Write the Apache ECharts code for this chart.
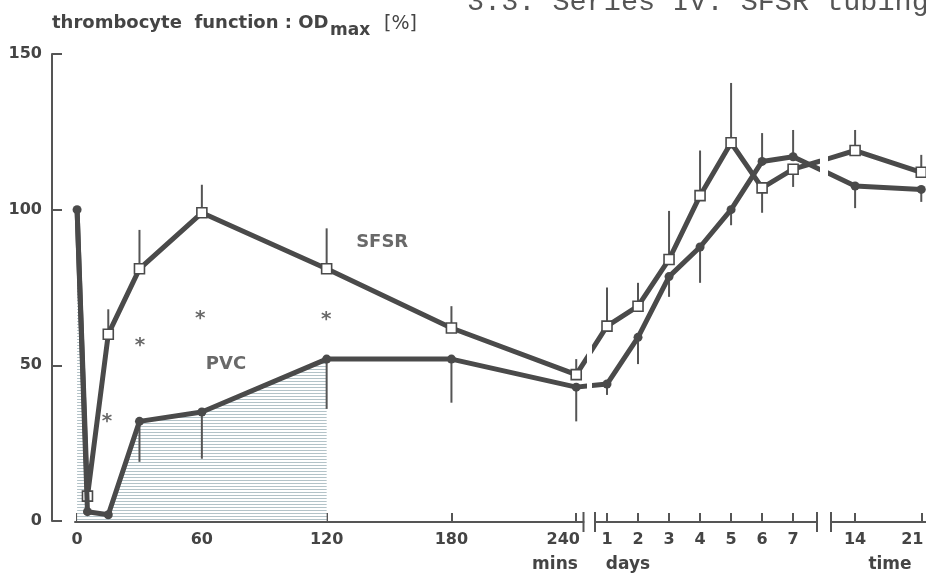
<!DOCTYPE html>
<html><head><meta charset="utf-8">
<script src="https://cdn.jsdelivr.net/npm/echarts@6/dist/echarts.min.js"></script>
<style>html,body{margin:0;padding:0;background:#fff}#c{width:926px;height:574px}</style>
</head><body><div id="c"></div>
<script>
// ---- data ----
const minsTimes = [0, 5, 15, 30, 60, 120, 180, 240];
const sfsrMins = [100, 8, 60, 81, 99, 81, 62, 47];
const pvcMins = [100, 3, 2, 32, 35, 52, 52, 43];
const sfsrMinsBar = [null, null, 68, 93.5, 108, 94, 69, 52];
const pvcMinsBar = [null, null, null, 19, 20, 36, 38, 32];

const dayTimes = [1, 2, 3, 4, 5, 6, 7];
const sfsrDays = [62.6, 69, 84, 104.5, 121.5, 107, 113];
const pvcDays = [44, 59, 78.5, 88, 100, 115.5, 117];
const sfsrDaysBar = [75, 76.5, 99.6, 119, 140.7, 99, 107.3];
const pvcDaysBar = [40.5, 50.4, 72, 76.5, 95, 124.6, 125.6];

const weekTimes = [14, 21];
const sfsrWeeks = [119, 112];
const pvcWeeks = [107.6, 106.5];
const sfsrWeeksBar = [125.6, 117.6];
const pvcWeeksBar = [100.5, 102.5];

const minsTicks = [0, 5, 15, 30, 60, 120, 180, 240];
const minsTickLabels = [0, 60, 120, 180, 240];
const dayTickLabels = [1, 2, 3, 4, 5, 6, 7];
const weekTickLabels = [14, 21];
const yTicks = [0, 50, 100, 150];
const hatchUntil = 120;

const asterisks = [[14.4, 33.4], [30.3, 57.8], [59.2, 66.5], [119.8, 66.2]];
const seriesNames = [['SFSR', 146.7, 89.6], ['PVC', 71.6, 50.4]];

// where the neighbouring segment's time falls on each broken axis
const DAY1_ON_MINS = 255, MIN240_ON_DAYS = 0, DAY14_ON_DAYS = 9, DAY7_ON_WEEKS = 7.5;

// ---- styling ----
const FONT = 'DejaVu Sans';
const INK = '#4a4a4a';
const AX = '#555';
const TXT = '#444';

const hatch = document.createElement('canvas');
hatch.width = 4; hatch.height = 3;
const hc = hatch.getContext('2d');
hc.fillStyle = '#ffffff'; hc.fillRect(0, 0, 4, 3);
hc.fillStyle = '#b3c3c8'; hc.fillRect(0, 0, 4, 1);

function pts(times, vals, noSymbolFirst) {
  return times.map((t, i) => (noSymbolFirst && i === 0) ? { value: [t, vals[i]], symbol: 'none' } : [t, vals[i]]);
}
function stub(t, v) { return { value: [t, v], symbol: 'none' }; }

function lineSeries(gi, data, square, z) {
  return {
    type: 'line', xAxisIndex: gi, yAxisIndex: gi, data, z,
    symbol: square ? 'rect' : 'circle', symbolSize: square ? 10 : 9,
    lineStyle: { color: INK, width: 5 },
    itemStyle: square ? { color: '#fff', borderColor: INK, borderWidth: 1.6 } : { color: INK },
    clip: true, animation: false, silent: true, emphasis: { disabled: true }
  };
}
function barSeries(gi, times, vals, ends) {
  const data = [];
  times.forEach((t, i) => { if (ends[i] != null) data.push([t, vals[i], ends[i]]); });
  return {
    type: 'custom', xAxisIndex: gi, yAxisIndex: gi, data, z: 2, silent: true, animation: false,
    encode: { x: 0, y: [1, 2] },
    renderItem: (p, api) => {
      const a = api.coord([api.value(0), api.value(1)]);
      const b = api.coord([api.value(0), api.value(2)]);
      return { type: 'line', shape: { x1: a[0], y1: a[1], x2: b[0], y2: b[1] }, style: { stroke: AX, lineWidth: 2 } };
    }
  };
}
const labelFont = { color: TXT, fontFamily: FONT, fontWeight: 'bold', fontSize: 16 };
function xAxis(gi, min, max, ticks, labels, rich, formatter) {
  return {
    type: 'value', gridIndex: gi, min, max,
    offset: 1,
    axisLine: { show: true, onZero: false, lineStyle: { color: AX, width: 2 } },
    axisTick: { show: true, inside: true, length: 9, lineStyle: { color: AX, width: 2 }, customValues: ticks },
    axisLabel: Object.assign({ customValues: labels, margin: 10, rich: rich || {}, formatter: formatter || (v => '' + v) }, labelFont),
    splitLine: { show: false }
  };
}
function yHidden(gi) {
  return { type: 'value', gridIndex: gi, min: 0, max: 150, show: false, splitLine: { show: false } };
}

const lastM = minsTimes.length - 1, lastD = dayTimes.length - 1;

const option = {
  backgroundColor: '#fff',
  animation: false,
  grid: [
    { left: 75, top: 54, width: 508.5, bottom: 53, containLabel: false, outerBoundsMode: 'none' },
    { left: 595, top: 54, width: 222, bottom: 53, containLabel: false, outerBoundsMode: 'none' },
    { left: 831, top: 54, width: 95, bottom: 53, containLabel: false, outerBoundsMode: 'none' }
  ],
  xAxis: [
    xAxis(0, -1, 243.5, minsTicks, minsTickLabels,
      { s: Object.assign({ padding: [0, 26, 0, 0] }, labelFont) },
      v => v === 240 ? '{s|240}' : '' + v),
    xAxis(1, 0.613, 7.77, dayTimes, dayTickLabels),
    xAxis(2, 11.45, 21.5, weekTimes, weekTickLabels,
      { s: Object.assign({ padding: [0, 18, 0, 0] }, labelFont) },
      v => v === 21 ? '{s|21}' : '' + v)
  ],
  yAxis: [
    {
      type: 'value', gridIndex: 0, min: 0, max: 150, interval: 50, offset: 23, position: 'left',
      axisLine: { show: true, onZero: false, lineStyle: { color: AX, width: 2 } },
      axisTick: { show: true, inside: true, length: 10, lineStyle: { color: AX, width: 2 }, customValues: yTicks },
      axisLabel: Object.assign({ margin: 10, customValues: yTicks }, labelFont),
      splitLine: { show: false }
    },
    yHidden(1), yHidden(2)
  ],
  series: [
    {
      type: 'line', xAxisIndex: 0, yAxisIndex: 0, z: 1, silent: true, animation: false,
      data: pts(minsTimes.filter(t => t <= hatchUntil), pvcMins),
      symbol: 'none', lineStyle: { width: 0, opacity: 0 },
      areaStyle: { color: { image: hatch, repeat: 'repeat' }, opacity: 1 }
    },
    barSeries(0, minsTimes, sfsrMins, sfsrMinsBar),
    barSeries(0, minsTimes, pvcMins, pvcMinsBar),
    lineSeries(0, pts(minsTimes, sfsrMins, true).concat([stub(DAY1_ON_MINS, sfsrDays[0])]), true, 3),
    lineSeries(0, pts(minsTimes, pvcMins).concat([stub(DAY1_ON_MINS, pvcDays[0])]), false, 4),

    barSeries(1, dayTimes, sfsrDays, sfsrDaysBar),
    barSeries(1, dayTimes, pvcDays, pvcDaysBar),
    lineSeries(1, [stub(MIN240_ON_DAYS, sfsrMins[lastM])].concat(pts(dayTimes, sfsrDays), [stub(DAY14_ON_DAYS, sfsrWeeks[0])]), true, 3),
    lineSeries(1, [stub(MIN240_ON_DAYS, pvcMins[lastM])].concat(pts(dayTimes, pvcDays), [stub(DAY14_ON_DAYS, pvcWeeks[0])]), false, 4),

    barSeries(2, weekTimes, sfsrWeeks, sfsrWeeksBar),
    barSeries(2, weekTimes, pvcWeeks, pvcWeeksBar),
    lineSeries(2, [stub(DAY7_ON_WEEKS, sfsrDays[lastD])].concat(pts(weekTimes, sfsrWeeks)), true, 3),
    lineSeries(2, [stub(DAY7_ON_WEEKS, pvcDays[lastD])].concat(pts(weekTimes, pvcWeeks)), false, 4),

    {
      type: 'scatter', xAxisIndex: 0, yAxisIndex: 0, z: 6, silent: true, animation: false,
      symbolSize: 1, itemStyle: { color: 'rgba(0,0,0,0)' },
      data: asterisks,
      label: { show: true, position: 'inside', formatter: '*', offset: [0, 5], color: TXT, fontFamily: FONT, fontWeight: 'bold', fontSize: 20 }
    },
    {
      type: 'scatter', xAxisIndex: 0, yAxisIndex: 0, z: 6, silent: true, animation: false,
      symbolSize: 1, itemStyle: { color: 'rgba(0,0,0,0)' },
      data: seriesNames.map(d => ({ name: d[0], value: [d[1], d[2]] })),
      label: { show: true, position: 'inside', formatter: p => p.name, color: TXT, fontFamily: FONT, fontWeight: 'bold', fontSize: 18 }
    }
  ]
};

const chart = echarts.init(document.getElementById('c'), null, { renderer: 'canvas' });
chart.setOption(option);

// break marks at segment edges, axis names, titles
const axisY = chart.convertToPixel({ yAxisIndex: 0 }, 0) + 1;
const edges = [[0, 243.5], [1, 0.613], [1, 7.77], [2, 11.45]];
const graphics = edges.map(e => {
  const x = chart.convertToPixel({ xAxisIndex: e[0] }, e[1]);
  return { type: 'line', shape: { x1: x, y1: axisY - 10, x2: x, y2: axisY + 10 }, style: { stroke: AX, lineWidth: 2 }, z: 10 };
});
const nameStyle = { fill: TXT, font: 'bold 17px "DejaVu Sans"', align: 'center', verticalAlign: 'middle' };
graphics.push(
  { type: 'text', x: 555, y: 565, style: Object.assign({ text: 'mins' }, nameStyle) },
  { type: 'text', x: 628, y: 565, style: Object.assign({ text: 'days' }, nameStyle) },
  { type: 'text', x: 890, y: 565, style: Object.assign({ text: 'time' }, nameStyle) },
  { type: 'text', x: 52, y: 23, style: { text: 'thrombocyte  function : OD', fill: TXT, font: 'bold 18px "DejaVu Sans"', align: 'left', verticalAlign: 'middle' } },
  { type: 'text', x: 330, y: 31, style: { text: 'max', fill: TXT, font: 'bold 17px "DejaVu Sans"', align: 'left', verticalAlign: 'middle' } },
  { type: 'text', x: 384, y: 24, style: { text: '[%]', fill: TXT, font: '19px "DejaVu Sans"', align: 'left', verticalAlign: 'middle' } },
  { type: 'text', x: 467, y: 2, style: { text: '3.3. Series IV: SFSR tubing', fill: '#555', font: '28.5px "Liberation Mono"', align: 'left', verticalAlign: 'middle' } }
);
chart.setOption({ graphic: graphics });
</script>
</body></html>
